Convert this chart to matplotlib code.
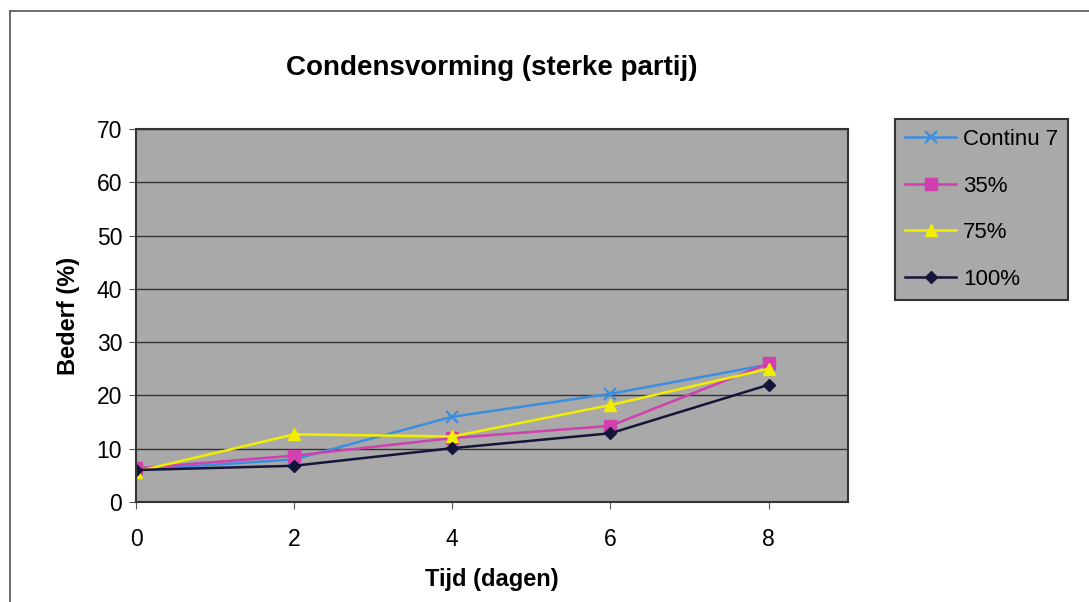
import matplotlib.pyplot as plt

plt.rcParams['font.family'] = ['Liberation Sans', 'DejaVu Sans']

# tijd in dagen
dagen = [0, 2, 4, 6, 8]

# bederf (%) per behandeling
continu7 = [6.0, 8.0, 16.0, 20.3, 25.8]
p35 = [6.3, 8.7, 12.0, 14.3, 26.0]
p75 = [5.7, 12.7, 12.3, 18.2, 25.0]
p100 = [6.0, 6.8, 10.1, 12.9, 22.0]

reeksen = ['Continu 7', '35%', '75%', '100%']
y_ticks = [0, 10, 20, 30, 40, 50, 60, 70]
x_ticks = [0, 2, 4, 6, 8]

fig = plt.figure(figsize=(10.89, 6.02), dpi=100)
ax = fig.add_axes([0.1249, 0.1661, 0.6535, 0.6196])

# rand om de hele grafiek (alleen boven en links zichtbaar)
fig.add_artist(plt.Line2D([10/1089, 10/1089], [0, 1 - 11/602], color='#555555', lw=1.2,
                          transform=fig.transFigure))
fig.add_artist(plt.Line2D([10/1089, 1], [1 - 11/602, 1 - 11/602], color='#555555', lw=1.2,
                          transform=fig.transFigure))

ax.set_facecolor('#a9a9a9')
ax.plot(dagen, continu7, color='#3b8fe0', marker='x', markersize=8, mew=1.6, lw=1.8, label=reeksen[0])
ax.plot(dagen, p35, color='#d23fae', marker='s', markersize=8, lw=1.8, label=reeksen[1])
ax.plot(dagen, p75, color='#f2ee00', marker='^', markersize=9, lw=1.8, label=reeksen[2])
ax.plot(dagen, p100, color='#15153a', marker='D', markersize=6, lw=1.8, label=reeksen[3])

ax.set_xlim(0, 9)
ax.set_ylim(0, 70)
ax.set_xticks(x_ticks)
ax.set_yticks(y_ticks)
ax.tick_params(labelsize=16.5, length=5, color='#555555')
ax.tick_params(axis='x', pad=14)
ax.tick_params(axis='y', pad=5)
ax.yaxis.grid(True, color='#333333', lw=1)
ax.set_axisbelow(True)
for s in ax.spines.values():
    s.set_color('#333333')
    s.set_linewidth(1.5)

ax.set_title('Condensvorming (sterke partij)', fontsize=20, fontweight='bold', pad=39)
ax.set_xlabel('Tijd (dagen)', fontsize=17, fontweight='bold', labelpad=12)
ax.set_ylabel('Bederf (%)', fontsize=17, fontweight='bold', labelpad=12)

leg = ax.legend(loc='upper left', bbox_to_anchor=(895/1089, 1 - 119/602),
                bbox_transform=fig.transFigure, fontsize=16, frameon=True,
                fancybox=False, borderaxespad=0, labelspacing=1.15, handlelength=2.3,
                handletextpad=0.3, borderpad=0.45)
leg.get_frame().set_facecolor('#a9a9a9')
leg.get_frame().set_edgecolor('#333333')
leg.get_frame().set_linewidth(1.5)
leg.get_frame().set_alpha(1)

fig.savefig('out.png', dpi=100)
